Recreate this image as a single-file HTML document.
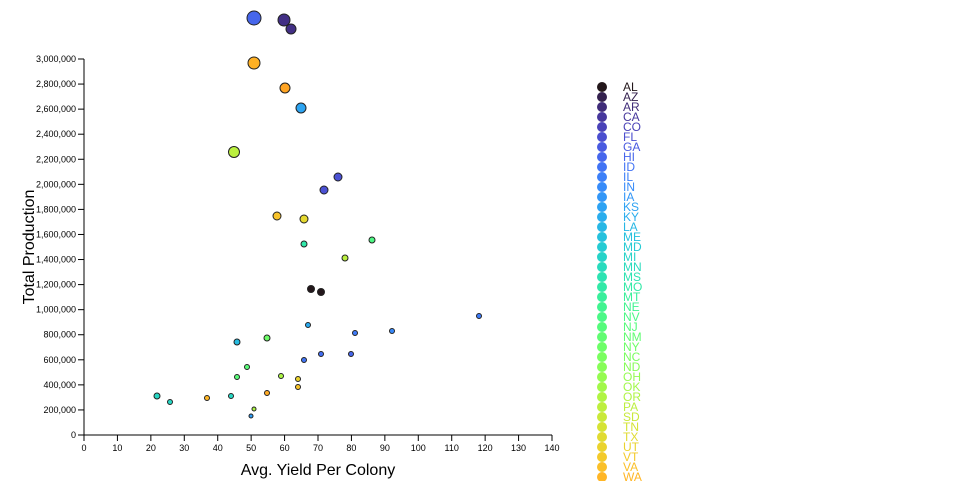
<!DOCTYPE html>
<html><head><meta charset="utf-8"><style>
body{margin:0;background:#fff;}
svg{display:block;font-family:"Liberation Sans",sans-serif;}
</style></head><body>
<svg id="s" width="960" height="500" viewBox="0 0 960 500">
<defs><clipPath id="cp"><rect x="0" y="0" width="960" height="481"/></clipPath></defs>
<g id="ax" font-size="9" fill="#000"></g>
<text x="318" y="475" font-size="16" text-anchor="middle">Avg. Yield Per Colony</text>
<text transform="translate(34,247) rotate(-90)" font-size="16" text-anchor="middle">Total Production</text>
<g id="pts" stroke="#222" stroke-width="1"></g>
<g id="leg" font-size="12" clip-path="url(#cp)"></g>
</svg>
<script>
function turbo(t){t=Math.max(0,Math.min(1,t));
var r=Math.max(0,Math.min(255,Math.round(34.61+t*(1172.33-t*(10793.56-t*(33300.12-t*(38394.49-t*14825.05)))))));
var g=Math.max(0,Math.min(255,Math.round(23.31+t*(557.33+t*(1225.33-t*(3574.96-t*(1073.77+t*707.56)))))));
var b=Math.max(0,Math.min(255,Math.round(27.2+t*(3211.1-t*(15327.97-t*(27814-t*(22569.18-t*6838.66)))))));
return "rgb("+r+","+g+","+b+")";}
var NS="http://www.w3.org/2000/svg";
function el(p,n,a,txt){var e=document.createElementNS(NS,n);for(var k in a)e.setAttribute(k,a[k]);if(txt!=null)e.textContent=txt;p.appendChild(e);return e;}
var ax=document.getElementById("ax");
el(ax,"line",{x1:84,y1:435,x2:552,y2:435,stroke:"#000"});
el(ax,"line",{x1:84,y1:59,x2:84,y2:435,stroke:"#000"});
for(var i=0;i<=14;i++){var x=84+i*468/14;
el(ax,"line",{x1:x,y1:435,x2:x,y2:441,stroke:"#000"});
el(ax,"text",{x:x,y:451,"text-anchor":"middle"},String(i*10));}
for(var j=0;j<=15;j++){var v=j*200000,y=435-v*376/3000000;
el(ax,"line",{x1:78,y1:y,x2:84,y2:y,stroke:"#000"});
el(ax,"text",{x:76,y:y+3,"text-anchor":"end"},v.toLocaleString("en-US"));}
var st="AL AZ AR CA CO FL GA HI ID IL IN IA KS KY LA ME MD MI MN MS MO MT NE NV NJ NM NY NC ND OH OK OR PA SD TN TX UT VT VA WA WV WI WY".split(" ");
var lg=document.getElementById("leg");
st.forEach(function(s,i){var c=turbo(i/58),y=87+i*10;
el(lg,"circle",{cx:602,cy:y,r:5,fill:c});
el(lg,"text",{x:623,y:y+4,fill:c},s);});
var P=[[254,18,7,0.12],[284,20,6,0.04],[291,29,5,0.04],[254,63,6,0.68],[285,88,5,0.70],[301,108,5,0.21],[234,152,5.5,0.55],[338,177,4,0.09],[324,190,4,0.09],[277,216,4,0.65],[304,219,4,0.61],[372,240,3,0.40],[304,244,3,0.34],[345,258,3,0.55],[311,289,3.5,0],[321,292,3.5,0],
[479,316,2.5,0.15],[308,325,2.5,0.22],[355,333,2.5,0.15],[392,331,2.5,0.17],[237,342,3,0.25],[267,338,3,0.45],[247,367,2.5,0.42],[321,354,2.5,0.13],[351,354,2.5,0.12],[304,360,2.5,0.14],[237,377,2.5,0.42],[281,376,2.5,0.53],[298,379,2.5,0.62],[298,387,2.5,0.65],[157,396,3,0.3],[170,402,2.5,0.3],[207,398,2.5,0.67],[231,396,2.5,0.3],[267,393,2.5,0.69],[254,409,2,0.53],[251,416,2,0.2]];
var pg=document.getElementById("pts");
P.forEach(function(p){el(pg,"circle",{cx:p[0],cy:p[1],r:p[2],fill:turbo(p[3])});});
</script>
</body></html>
